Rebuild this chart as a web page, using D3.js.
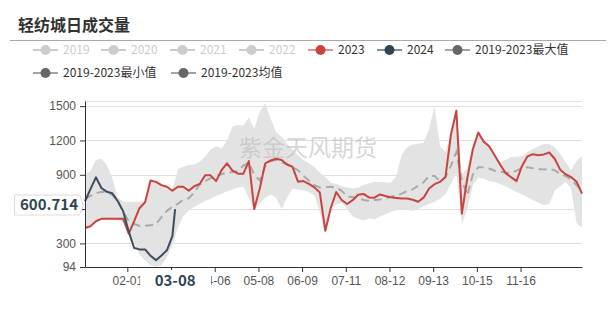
<!DOCTYPE html>
<html>
<head>
<meta charset="utf-8">
<script src="https://cdn.jsdelivr.net/npm/d3@7"></script>
<style>
  body { margin: 0; background: #fff; }
  svg { display: block; font-family: "Noto Sans CJK SC", "Noto Sans", sans-serif; }
</style>
</head>
<body>
<svg id="chart" width="616" height="310"></svg>
<script>
// category axis: every day of the year as MM-DD
const fmtDay = d3.timeFormat("%m-%d")
const categories = d3.timeDay.range(new Date(2023, 0, 1), new Date(2024, 0, 1)).map(fmtDay)
// values read every 4th day
const sampleDays = categories.filter((d, i) => i % 4 === 0)
const days2024 = sampleDays.slice(0, 17).concat(["03-08"])

const tickLabels = ["02-01", "03-05", "04-06", "05-08", "06-09", "07-11", "08-12", "09-13", "10-15", "11-16"]
const yTicks = [94, 300, 600, 900, 1200, 1500]
const yMin = 94, yMax = 1545

const v2023 = [435, 450, 494, 515, 515, 515, 515, 515, 385, 494,
  610, 660, 850, 838, 810, 795, 760, 795, 795, 760,
  800, 820, 895, 895, 845, 940, 1000, 936, 910, 910,
  1020, 600, 780, 1000, 1025, 1040, 1030, 990, 970, 840,
  845, 820, 790, 745, 410, 610, 750, 680, 645, 678,
  725, 733, 702, 700, 728, 715, 704, 698, 692, 692,
  682, 664, 700, 780, 818, 838, 880, 1250, 1460, 560,
  870, 1120, 1270, 1190, 1150, 1070, 990, 915, 880, 845,
  975, 1060, 1080, 1070, 1078, 1095, 1040, 945, 905, 880,
  840, 735]

const v2024 = [669, 775, 878, 785, 751, 738, 670, 580, 405, 260,
  248, 248, 192, 154, 195, 240, 364, 600.714]

const vMax = [900, 935, 1030, 1040, 985, 873, 700, 664, 664, 664,
  664, 670, 850, 838, 810, 800, 770, 950, 970, 985,
  990, 1015, 1060, 1120, 1150, 1130, 1200, 1320, 1335, 1330,
  1400, 1300, 1450, 1526, 1390, 1275, 1230, 1170, 1120, 1070,
  1030, 1000, 965, 920, 880, 830, 820, 800, 790, 780,
  790, 810, 825, 840, 840, 835, 830, 890, 1076, 1140,
  1165, 1170, 1180, 1300, 1500, 1150, 1100, 1260, 1490, 900,
  960, 1150, 1285, 1200, 1150, 1075, 1010, 1030, 1055, 1060,
  1062, 1100, 1125, 1150, 1170, 1170, 1140, 1085, 1010, 940,
  1020, 1061]

const vMin = [435, 450, 494, 515, 515, 509, 509, 480, 385, 300,
  200, 150, 110, 94, 110, 180, 280, 437, 540, 590,
  620, 645, 672, 690, 715, 735, 756, 772, 790, 795,
  700, 590, 650, 700, 727, 700, 600, 700, 780, 770,
  765, 750, 720, 570, 405, 600, 640, 655, 600, 535,
  515, 500, 520, 510, 535, 555, 575, 590, 600, 600,
  585, 600, 625, 645, 665, 690, 730, 820, 920, 470,
  600, 810, 873, 865, 844, 838, 820, 800, 775, 750,
  727, 705, 680, 655, 635, 640, 760, 800, 840, 780,
  480, 437]

const vMean = [690, 715, 738, 752, 746, 725, 670, 580, 495, 470,
  452, 455, 458, 470, 530, 585, 620, 645, 684, 695,
  745, 815, 845, 870, 890, 905, 922, 922, 935, 980,
  1005, 900, 850, 975, 1020, 1030, 1010, 990, 965, 940,
  890, 850, 810, 790, 790, 795, 788, 760, 710, 705,
  698, 680, 672, 680, 684, 694, 708, 722, 735, 758,
  772, 805, 835, 890, 890, 845, 880, 980, 1100, 850,
  720, 900, 965, 965, 955, 935, 928, 920, 918, 935,
  960, 965, 958, 950, 947, 950, 940, 905, 890, 860,
  810, 760]

const legendItems = [
  {name: "2019", color: "#ccc", off: true}, {name: "2020", color: "#ccc", off: true},
  {name: "2021", color: "#ccc", off: true}, {name: "2022", color: "#ccc", off: true},
  {name: "2023", color: "#c9443f"}, {name: "2024", color: "#2f4554"},
  {name: "2019-2023最大值", color: "#666"}, {name: "2019-2023最小值", color: "#666"},
  {name: "2019-2023均值", color: "#666"}
]
const legendPos = [[33, 50], [101, 50], [170, 50], [239, 50], [308, 50], [377, 50], [445, 50], [33, 73], [171, 73]]

const svg = d3.select("#chart")
const plotL = 85, plotR = 582, plotT = 101, plotB = 267

const x = d3.scalePoint().domain(categories).range([plotL, plotR])
const y = d3.scaleLinear().domain([yMin, yMax]).range([plotB, plotT])

// title
svg.append("text").attr("x", 18).attr("y", 31)
  .attr("font-size", 16).attr("font-weight", "bold").attr("fill", "#333")
  .text("轻纺城日成交量")
svg.append("line").attr("x1", 10).attr("x2", 606).attr("y1", 40.5).attr("y2", 40.5)
  .attr("stroke", "#aaa")

// legend
const leg = svg.append("g").selectAll("g").data(legendItems).join("g")
  .attr("transform", (d, i) => `translate(${legendPos[i][0]},${legendPos[i][1]})`)
leg.append("line").attr("x1", 0).attr("x2", 25)
  .attr("stroke", d => d.color).attr("stroke-width", 2).attr("stroke-opacity", d => d.off ? 1 : 0.6)
leg.append("circle").attr("cx", 12.5).attr("r", 5).attr("fill", d => d.color)
leg.append("text").attr("x", 30).attr("dy", "0.35em").attr("font-size", 12)
  .attr("fill", d => d.off ? "#ccc" : "#333").text(d => d.name)

// grid
const gridVals = yTicks.slice(1).concat([yMax])
svg.append("g").selectAll("line").data(gridVals).join("line")
  .attr("x1", plotL).attr("x2", plotR)
  .attr("y1", d => Math.round(y(d)) + 0.5).attr("y2", d => Math.round(y(d)) + 0.5)
  .attr("stroke", "#e0e0e0")

// band between min and max
const band = sampleDays.map((d, i) => ({d, lo: vMin[i], hi: vMax[i]}))
svg.append("path").datum(band)
  .attr("fill", "#e3e3e3")
  .attr("d", d3.area().x(p => x(p.d)).y0(p => y(p.lo)).y1(p => y(p.hi)))

// watermark
svg.append("text").attr("x", 308).attr("y", 148).attr("dy", "0.35em")
  .attr("text-anchor", "middle").attr("font-size", 23).attr("fill", "#bbb").attr("fill-opacity", 0.6)
  .text("紫金天风期货")

const line = d3.line().x(p => x(p[0])).y(p => y(p[1]))

svg.append("path").datum(d3.zip(sampleDays, vMean))
  .attr("fill", "none").attr("stroke", "#aaa").attr("stroke-width", 2)
  .attr("stroke-dasharray", "8,5").attr("d", line)

svg.append("path").datum(d3.zip(sampleDays, v2023))
  .attr("fill", "none").attr("stroke", "#c9443f").attr("stroke-width", 2)
  .attr("stroke-linejoin", "round").attr("d", line)

svg.append("path").datum(d3.zip(days2024, v2024))
  .attr("fill", "none").attr("stroke", "#3b4f60").attr("stroke-width", 2)
  .attr("stroke-linejoin", "round").attr("d", line)

// axis pointer values (last 2024 point)
const lastDay = days2024[days2024.length - 1]
const lastVal = v2024[v2024.length - 1]

// axes
const xAxis = svg.append("g").attr("transform", `translate(0,${plotB})`)
  .call(d3.axisBottom(x).tickValues(tickLabels).tickSize(5).tickPadding(4).tickSizeOuter(0))
xAxis.select(".domain").attr("stroke", "#333")
xAxis.selectAll(".tick line").attr("stroke", "#333")
xAxis.selectAll("text").attr("font-size", 12).attr("fill", "#555").attr("font-family", null)
// label under the pointer box is hidden
xAxis.selectAll(".tick text").filter(d => d === "03-05").remove()

const yAxis = svg.append("g").attr("transform", `translate(${plotL},0)`)
  .call(d3.axisLeft(y).tickValues(yTicks).tickFormat(d3.format("d")).tickSize(5).tickPadding(4).tickSizeOuter(0))
yAxis.select(".domain").attr("stroke", "#333")
yAxis.selectAll(".tick line").attr("stroke", "#333")
yAxis.selectAll("text").attr("font-size", 12).attr("fill", "#555").attr("font-family", null)
yAxis.selectAll(".tick text").filter(d => d === 600).remove()

// axis pointer labels
const px = x(lastDay)
svg.append("rect").attr("x", px - 35).attr("y", 270).attr("width", 71).attr("height", 22).attr("fill", "#fff")
svg.append("text").attr("x", px).attr("y", 281).attr("dy", "0.35em").attr("text-anchor", "middle")
  .attr("font-size", 15).attr("font-weight", "bold").attr("fill", "#2f4554").text(lastDay)

const py = y(lastVal) - 4
svg.append("path")
  .attr("d", `M14.5,${py - 10}H79.5L83.5,${py}L79.5,${py + 10}H14.5Z`)
  .attr("fill", "#fff").attr("stroke", "#ddd")
svg.append("text").attr("x", 49).attr("y", py).attr("dy", "0.35em").attr("text-anchor", "middle")
  .attr("font-size", 15).attr("font-weight", "bold").attr("fill", "#2f4554").text(d3.format(".3f")(lastVal))
</script>
</body>
</html>
